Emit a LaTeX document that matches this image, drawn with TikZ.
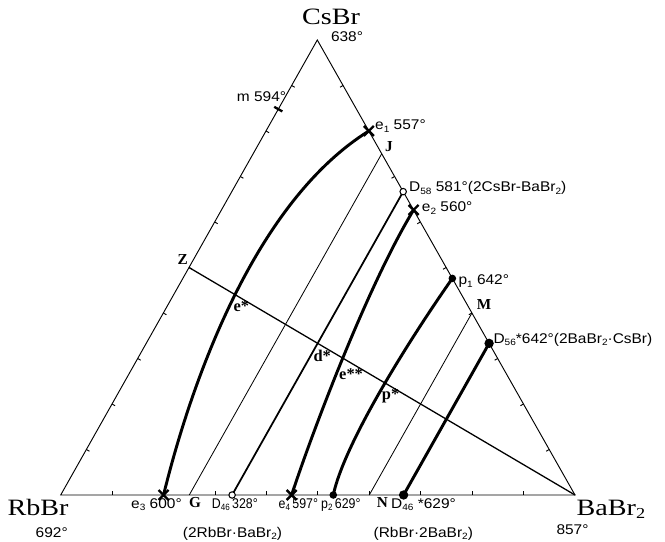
\documentclass[tikz,border=0pt]{standalone}
\usepackage{fontspec}
\setmainfont{Liberation Serif}
\newfontfamily\labfont[FakeStretch=1.1]{Liberation Sans}
\newfontfamily\narrowfont[FakeStretch=0.88]{Liberation Sans}
\newfontfamily\bigfont[FakeStretch=1.2]{Liberation Serif}
\usetikzlibrary{calc}
\newcommand\lsub[1]{\raisebox{-0.35ex}{\fontsize{7.8}{8}\selectfont #1}}
\begin{document}
\begin{tikzpicture}[x=0.03cm,y=-0.03cm,
 edge/.style={line width=0.8pt},
 thinline/.style={line width=0.7pt},
 joinline/.style={line width=1.5pt},
 thickline/.style={line width=2.5pt},
 zline/.style={line width=1.1pt},
 lab/.style={inner sep=0pt,font=\labfont\fontsize{12}{14}\selectfont},
 nlab/.style={inner sep=0pt,font=\narrowfont\fontsize{12}{14}\selectfont},
 ltr/.style={inner sep=0pt,font=\fontsize{13}{15}\selectfont\bfseries},
 star/.style={inner sep=0pt,font=\fontsize{14}{16}\selectfont\bfseries},
 bigl/.style={inner sep=0pt,font=\bigfont\fontsize{20}{24}\selectfont},
 odot/.style={circle,draw,fill=white,line width=0.9pt,inner sep=0pt,minimum size=5.5pt},
 fdot/.style={circle,fill=black,inner sep=0pt,minimum size=6.5pt},
 bdot/.style={circle,fill=black,inner sep=0pt,minimum size=8pt},
 xmk/.pic={\draw[line width=2pt] (-5,-5)--(5,5) (-5,5)--(5,-5);}]
\useasboundingbox (0,0) rectangle (665,542);
% vertices
\coordinate (A) at (60.7,495);
\coordinate (B) at (575,495);
\coordinate (C) at (317.3,40);
% points on edges
\coordinate (e3) at ($(A)!0.2!(B)$);
\coordinate (G) at ($(A)!0.25!(B)$);
\coordinate (D46) at ($(A)!0.3333!(B)$);
\coordinate (e4) at ($(A)!0.449!(B)$);
\coordinate (p2) at ($(A)!0.53!(B)$);
\coordinate (N) at ($(A)!0.6!(B)$);
\coordinate (D46s) at ($(A)!0.6667!(B)$);
\coordinate (e1) at ($(C)!0.2!(B)$);
\coordinate (J) at ($(C)!0.25!(B)$);
\coordinate (D58) at ($(C)!0.3333!(B)$);
\coordinate (e2) at ($(C)!0.3736!(B)$);
\coordinate (p1) at ($(C)!0.524!(B)$);
\coordinate (M) at ($(C)!0.6!(B)$);
\coordinate (D56) at ($(C)!0.6667!(B)$);
\coordinate (m) at ($(C)!0.152!(A)$);
\coordinate (Z) at ($(A)!0.5!(C)$);
% triangle
\draw[edge] (A) -- (B) -- (C) -- cycle;
\foreach \f in {0.1,0.2,0.3,0.4,0.5,0.6,0.7,0.8,0.9}{
  \path ($(A)!\f!(B)$) coordinate (t);
  \draw[edge] (t) -- ($(t)!3pt!90:(B)$);
  \path ($(B)!\f!(C)$) coordinate (t);
  \draw[edge] (t) -- ($(t)!3pt!90:(C)$);
  \path ($(C)!\f!(A)$) coordinate (t);
  \draw[edge] (t) -- ($(t)!3pt!90:(A)$);
}
% section lines
\draw[zline] (Z) -- (B);
\draw[thinline] (G) -- (J);
\draw[thinline] (N) -- (M);
\draw[joinline] (D46) -- (D58);
% univariant curves
\draw[thickline] (e3) .. controls (188,395) and (250,205) .. (e1);
\draw[thickline] (e4) .. controls (313,430) and (368,285) .. (e2);
\draw[thickline] (p2) .. controls (345,440) and (416,330) .. (p1);
\draw[thickline] (D46s) -- (D56);
% markers
\draw[line width=2pt] ($(m)!4pt!90:(A)$) -- ($(m)!4pt!-90:(A)$);
\pic at (e1) {xmk};
\pic at (e2) {xmk};
\pic at (e3) {xmk};
\pic at (e4) {xmk};
\node[odot] (nD46) at (D46) {};
\node[odot] (nD58) at (D58) {};
\node[fdot] (np1) at (p1) {};
\node[fdot] (np2) at (p2) {};
\node[bdot] (nD46s) at (D46s) {};
\node[bdot] (nD56) at (D56) {};
% vertex labels
\node[bigl,anchor=base] (lC) at (331,25) {CsBr};
\node[lab] (tC) at (347,37) {638°};
\node[bigl,anchor=base] (lA) at (38,515) {RbBr};
\node[lab] (tA) at (51.7,533) {692°};
\node[bigl,anchor=base west] (lB) at (576.5,515) {BaBr\raisebox{-0.3ex}{\fontsize{13}{14}\selectfont 2}};
\node[lab] (tB) at (572.5,530) {857°};
% base labels
\node[lab,anchor=base west] (le3) at (131,508.3) {e\lsub{3} 600°};
\node[ltr,anchor=base west] (lG) at (189,508) {G};
\node[nlab,anchor=base west] (lD46) at (211.7,508.3) {D\lsub{46}\,328°};
\node[lab,anchor=base] (lD46f) at (232.5,537) {(2RbBr·BaBr\lsub{2})};
\node[nlab,anchor=base west] (le4) at (278.5,508.3) {e\lsub{4}\,597°};
\node[nlab,anchor=base west] (lp2) at (321,508.3) {p\lsub{2}\,629°};
\node[ltr,anchor=base west] (lN) at (376.7,508) {N};
\node[lab,anchor=base west] (lD46s) at (391,508.3) {D\lsub{46} *629°};
\node[lab,anchor=base] (lD46sf) at (423.3,537) {(RbBr·2BaBr\lsub{2})};
% right edge labels
\node[lab,anchor=base west] (le1) at (375,130) {e\lsub{1} 557°};
\node[ltr,anchor=base west] (lJ) at (385,151.7) {J};
\node[lab,anchor=base west] (lD58) at (409,191.7) {D\lsub{58} 581°(2CsBr-BaBr\lsub{2})};
\node[lab,anchor=base west] (le2) at (421.7,211.7) {e\lsub{2} 560°};
\node[lab,anchor=base west] (lp1) at (458.3,285) {p\lsub{1} 642°};
\node[ltr,anchor=base west] (lM) at (476.7,310) {M};
\node[lab,anchor=base west] (lD56) at (493.3,343.3) {D\lsub{56}*642°(2BaBr\lsub{2}·CsBr)};
% left edge labels
\node[lab,anchor=base west] (lm) at (236.7,101.7) {m 594°};
\node[ltr,anchor=base west] (lZ) at (177.5,265) {Z};
% inner labels
\node[star,anchor=base west] (les) at (233.3,311.7) {e*};
\node[star,anchor=base west] (lds) at (313.3,361.7) {d*};
\node[star,anchor=base west] (less) at (339,380) {e**};
\node[star,anchor=base west] (lps) at (381.7,400) {p*};
\end{tikzpicture}
\end{document}
